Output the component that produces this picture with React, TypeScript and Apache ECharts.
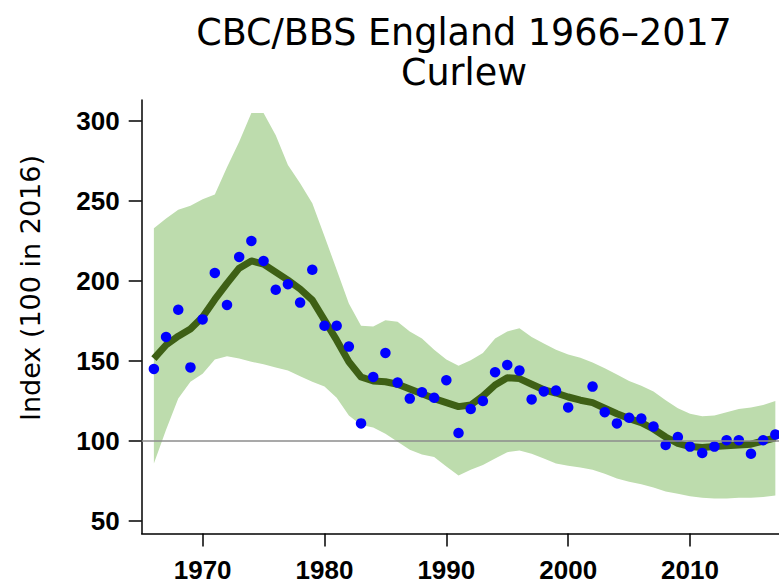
import React, { useEffect, useRef } from "react";
import * as echarts from "echarts";

const TITLE_LINE1 = "CBC/BBS England 1966–2017";
const TITLE_LINE2 = "Curlew";
const Y_AXIS_LABEL = "Index (100 in 2016)";

const YEARS = [
  1966, 1967, 1968, 1969, 1970, 1971, 1972, 1973, 1974, 1975, 1976, 1977, 1978,
  1979, 1980, 1981, 1982, 1983, 1984, 1985, 1986, 1987, 1988, 1989, 1990, 1991,
  1992, 1993, 1994, 1995, 1996, 1997, 1998, 1999, 2000, 2001, 2002, 2003, 2004,
  2005, 2006, 2007, 2008, 2009, 2010, 2011, 2012, 2013, 2014, 2015, 2016, 2017,
];

// Annual index (blue dots); 2001 has no survey value
const ANNUAL_INDEX: (number | null)[] = [
  145, 165, 182, 146, 176, 205, 185, 215, 225, 212.5, 194.5, 198, 186.5,
  207, 172, 172, 159, 111, 140, 155, 136.5, 126.5, 130.5, 127, 138, 105,
  120, 125, 143, 147.5, 144, 126, 131, 131.5, 121, null, 134, 118, 111,
  114.5, 114, 109, 97.5, 102.5, 96.5, 92.5, 96.5, 100.5, 100.5, 92, 100.5, 104,
];

// Smoothed trend (dark green line)
const SMOOTHED: number[] = [
  151.5, 160, 165.5, 170, 177.5, 188.5, 198.5, 208, 212.5, 210.5, 205.5, 200.5, 195,
  188, 175.5, 163, 149.5, 140, 137.5, 137, 135.5, 132.5, 129.5, 126.5, 124, 121.5,
  122.5, 128, 135, 139.5, 139, 135.5, 132, 130, 127.5, 125.5, 124, 120.5, 117,
  114, 111.5, 107.5, 102.5, 98.5, 96.5, 96, 96.5, 97, 97.5, 98, 100, 102,
];

// Confidence limits (light green band)
const UPPER: number[] = [
  233, 239, 244.5, 247, 251, 254, 271, 287, 305, 305, 291, 272.5, 261,
  248.5, 228, 207, 186, 172, 171.5, 175.5, 174.5, 168.5, 164, 157, 151, 147,
  150.5, 155, 164, 168.5, 170.5, 165, 161, 157, 154, 152, 149, 145.5, 141.5,
  137.5, 134.5, 131, 125.5, 120.5, 117, 115.5, 116, 118, 120, 121, 122.5, 125,
];
const LOWER: number[] = [
  86, 107, 126.5, 137, 142, 151, 153, 151.5, 149.5, 148, 146, 144, 140.5,
  137, 134, 127, 116, 110, 108.5, 104.5, 99.5, 94.5, 91.5, 90, 84, 78.5,
  82, 85, 89, 93, 94, 92, 89, 86, 84.5, 83.5, 82, 79.5, 76.5,
  74.5, 73, 71, 68.5, 67, 65.5, 64.5, 64, 64, 64.5, 64.5, 65, 66,
];

const REFERENCE_VALUE = 100;
const Y_TICKS = [50, 100, 150, 200, 250, 300];
const X_TICKS = [1970, 1980, 1990, 2000, 2010];

export default function App() {
  const ref = useRef<HTMLDivElement>(null);

  useEffect(() => {
    if (!ref.current) return;
    const chart = echarts.init(ref.current, null, { renderer: "svg" });

    const bandRows = YEARS.map((y, i) => [y, LOWER[i], UPPER[i]]);
    const trendData = YEARS.map((y, i) => [y, SMOOTHED[i]]);
    const dotData = YEARS.map((y, i) => [y, ANNUAL_INDEX[i]]).filter(
      (d) => d[1] !== null
    );

    const tickFont = {
      fontFamily: "Liberation Sans, Arial, sans-serif",
      fontWeight: "bold" as const,
      fontSize: 26,
      color: "#000",
    };

    chart.setOption({
      animation: false,
      backgroundColor: "#fff",
      title: {
        text: TITLE_LINE1 + "\n" + TITLE_LINE2,
        left: 459,
        top: 7,
        textAlign: "center",
        textStyle: {
          fontFamily: "DejaVu Sans",
          fontSize: 36.5,
          lineHeight: 40,
          fontWeight: "normal",
          color: "#000",
        },
      },
      graphic: [
        {
          type: "text",
          x: 30,
          y: 288,
          rotation: Math.PI / 2,
          style: {
            text: Y_AXIS_LABEL,
            fontFamily: "DejaVu Sans",
            fontSize: 27,
            fill: "#000",
            align: "center",
            verticalAlign: "middle",
          },
        },
      ],
      grid: {
        left: 141.7,
        right: 0,
        top: 100,
        bottom: 48.5,
        containLabel: false,
        outerBoundsMode: "none",
      },
      xAxis: {
        type: "value",
        min: 1965,
        max: 2017.3,
        splitLine: { show: false },
        axisLine: { show: true, onZero: false, lineStyle: { color: "#000", width: 1.5 } },
        axisTick: {
          show: true,
          length: 13,
          customValues: X_TICKS,
          lineStyle: { color: "#000", width: 1.5 },
        },
        axisLabel: {
          ...tickFont,
          lineHeight: 20,
          margin: 26.5,
          customValues: X_TICKS,
          formatter: (v: number) => String(v),
        },
      },
      yAxis: {
        type: "value",
        min: 42.2,
        max: 313.1,
        splitLine: { show: false },
        axisLine: { show: true, onZero: false, lineStyle: { color: "#000", width: 1.5 } },
        axisTick: {
          show: true,
          length: 13,
          customValues: Y_TICKS,
          lineStyle: { color: "#000", width: 1.5 },
        },
        axisLabel: {
          ...tickFont,
          margin: 22,
          customValues: Y_TICKS,
        },
      },
      series: [
        {
          type: "custom",
          name: "band",
          data: [0],
          silent: true,
          z: 1,
          renderItem: (params: any, api: any) => {
            const top = bandRows.map((r) => api.coord([r[0], r[2]]));
            const bottom = bandRows
              .slice()
              .reverse()
              .map((r) => api.coord([r[0], r[1]]));
            return {
              type: "polygon",
              shape: { points: top.concat(bottom) },
              style: { fill: "#bddcad", stroke: "none" },
            };
          },
        },
        {
          type: "line",
          name: "reference",
          data: [],
          z: 2,
          markLine: {
            silent: true,
            symbol: "none",
            label: { show: false },
            lineStyle: { color: "#8c8c8c", width: 1.5, type: "solid" },
            data: [{ yAxis: REFERENCE_VALUE }],
          },
        },
        {
          type: "line",
          name: "trend",
          data: trendData,
          symbol: "none",
          smooth: false,
          lineStyle: { color: "#3e6015", width: 7, join: "round", cap: "butt" },
          z: 3,
        },
        {
          type: "scatter",
          name: "index",
          data: dotData,
          symbol: "circle",
          symbolSize: 10.5,
          itemStyle: { color: "#0000ff", opacity: 1 },
          z: 4,
        },
      ],
    });

    return () => chart.dispose();
  }, []);

  return (
    <div
      ref={ref}
      style={{ position: "fixed", left: 0, top: 0, width: 779, height: 582 }}
    />
  );
}
